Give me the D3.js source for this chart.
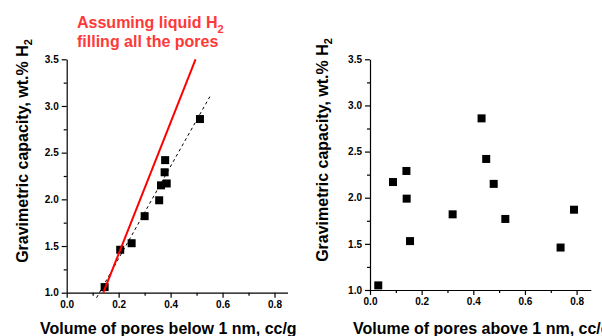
<!DOCTYPE html>
<html>
<head>
<meta charset="utf-8">
<script src="https://cdn.jsdelivr.net/npm/d3@7"></script>
<style>
  body { margin: 0; background: #fff; }
  text { font-family: Arial, 'Liberation Sans', sans-serif; font-weight: bold; }
</style>
</head>
<body>
<div id="chart"></div>
<script>
// left panel: pores below 1 nm
const leftX = [0.146, 0.206, 0.250, 0.300, 0.356, 0.363, 0.385, 0.377, 0.379, 0.513];
const leftY = [1.06, 1.46, 1.53, 1.82, 1.99, 2.15, 2.17, 2.29, 2.42, 2.86];
// right panel: pores above 1 nm
const rightX = [0.032, 0.089, 0.141, 0.142, 0.155, 0.320, 0.432, 0.450, 0.479, 0.524, 0.738, 0.790];
const rightY = [1.05, 2.17, 2.29, 1.99, 1.53, 1.82, 2.86, 2.42, 2.15, 1.77, 1.46, 1.87];
// lines on the left panel (end points)
const fitLineX = [0.115, 0.551];
const fitLineY = [0.946, 3.10];
const liquidLineX = [0.141, 0.496];
const liquidLineY = [1.0, 3.5];

const xTicks = [0.0, 0.2, 0.4, 0.6, 0.8];
const yTicks = [1.0, 1.5, 2.0, 2.5, 3.0, 3.5];

const W = 602, H = 336;
const svg = d3.select('#chart').append('svg')
  .attr('width', W).attr('height', H);

function styleLabels(a) {
  a.selectAll('text')
    .style('font-size', '10px')
    .style('font-family', 'Arial')
    .style('font-weight', 'bold')
    .attr('fill', '#000');
}

function panel(opts) {
  const x = d3.scaleLinear().domain([0, opts.xMax]).range(opts.xRange);
  const y = d3.scaleLinear().domain([1, 3.5]).range(opts.yRange);
  const g = svg.append('g');

  // x axis with minor ticks
  const xAxis = g.append('g')
    .attr('transform', `translate(0,${opts.yRange[0]})`);
  xAxis.append('g')
    .call(d3.axisBottom(x).tickValues(d3.range(0.1, 0.85, 0.2)).tickSize(3).tickFormat(''))
    .call(a => a.select('.domain').remove());
  xAxis.append('g')
    .call(d3.axisBottom(x).tickValues(xTicks).tickSize(5).tickSizeOuter(0).tickPadding(3)
      .tickFormat(d3.format('.1f')))
    .call(styleLabels);

  const yAxis = g.append('g')
    .attr('transform', `translate(${opts.xRange[0]},0)`);
  yAxis.append('g')
    .call(d3.axisLeft(y).tickValues(d3.range(1.25, 3.5, 0.5)).tickSize(3).tickFormat(''))
    .call(a => a.select('.domain').remove());
  yAxis.append('g')
    .call(d3.axisLeft(y).tickValues(yTicks).tickSize(5).tickSizeOuter(0).tickPadding(3)
      .tickFormat(d3.format('.1f')))
    .call(styleLabels);

  g.selectAll('.domain, .tick line').attr('stroke', '#000').attr('stroke-width', 1.2);

  // points
  g.selectAll('.pt')
    .data(opts.xs.map((v, i) => [v, opts.ys[i]]))
    .enter().append('rect')
    .attr('class', 'pt')
    .attr('x', d => x(d[0]) - 4)
    .attr('y', d => y(d[1]) - 4)
    .attr('width', 8).attr('height', 8)
    .attr('fill', '#000');

  // y title
  const yt = g.append('text')
    .attr('transform', `translate(${opts.yTitleX},${opts.yTitleY}) rotate(-90)`)
    .attr('text-anchor', 'middle')
    .style('font-size', '16px')
    .attr('fill', '#000');
  yt.append('tspan').text('Gravimetric capacity, wt.% H');
  yt.append('tspan').attr('dy', 4).style('font-size', '11px').text('2');

  // x title
  g.append('text')
    .attr('x', opts.xTitleX).attr('y', 334)
    .attr('text-anchor', 'start')
    .style('font-size', '16px')
    .attr('fill', '#000')
    .text(opts.xTitle);

  return { g, x, y };
}

const left = panel({
  xMax: 0.85, xRange: [66.7, 287.5], yRange: [292.7, 59.3],
  xs: leftX, ys: leftY,
  yTitleX: 28, yTitleY: 151,
  xTitleX: 40, xTitle: 'Volume of pores below 1 nm, cc/g'
});

const right = panel({
  xMax: 0.855, xRange: [370, 590.8], yRange: [290, 59.3],
  xs: rightX, ys: rightY,
  yTitleX: 328, yTitleY: 150,
  xTitleX: 353, xTitle: 'Volume of pores above 1 nm, cc/g'
});

// lines on the left panel, drawn over the points
const line = d3.line().x(d => left.x(d[0])).y(d => left.y(d[1]));
left.g.append('path')
  .datum(fitLineX.map((v, i) => [v, fitLineY[i]]))
  .attr('d', line)
  .attr('fill', 'none')
  .attr('stroke', '#000')
  .attr('stroke-width', 1)
  .attr('stroke-dasharray', '3,3');
left.g.append('path')
  .datum(liquidLineX.map((v, i) => [v, liquidLineY[i]]))
  .attr('d', line)
  .attr('fill', 'none')
  .attr('stroke', '#f00')
  .attr('stroke-width', 2);

// annotation
const ann = svg.append('text')
  .attr('x', 77).attr('y', 28)
  .attr('fill', '#ff3838')
  .style('font-size', '16px');
ann.append('tspan').text('Assuming liquid H');
ann.append('tspan').attr('dy', 5).style('font-size', '11px').text('2');
svg.append('text')
  .attr('x', 77).attr('y', 47)
  .attr('fill', '#ff3838')
  .style('font-size', '16px')
  .text('filling all the pores');
</script>
</body>
</html>
